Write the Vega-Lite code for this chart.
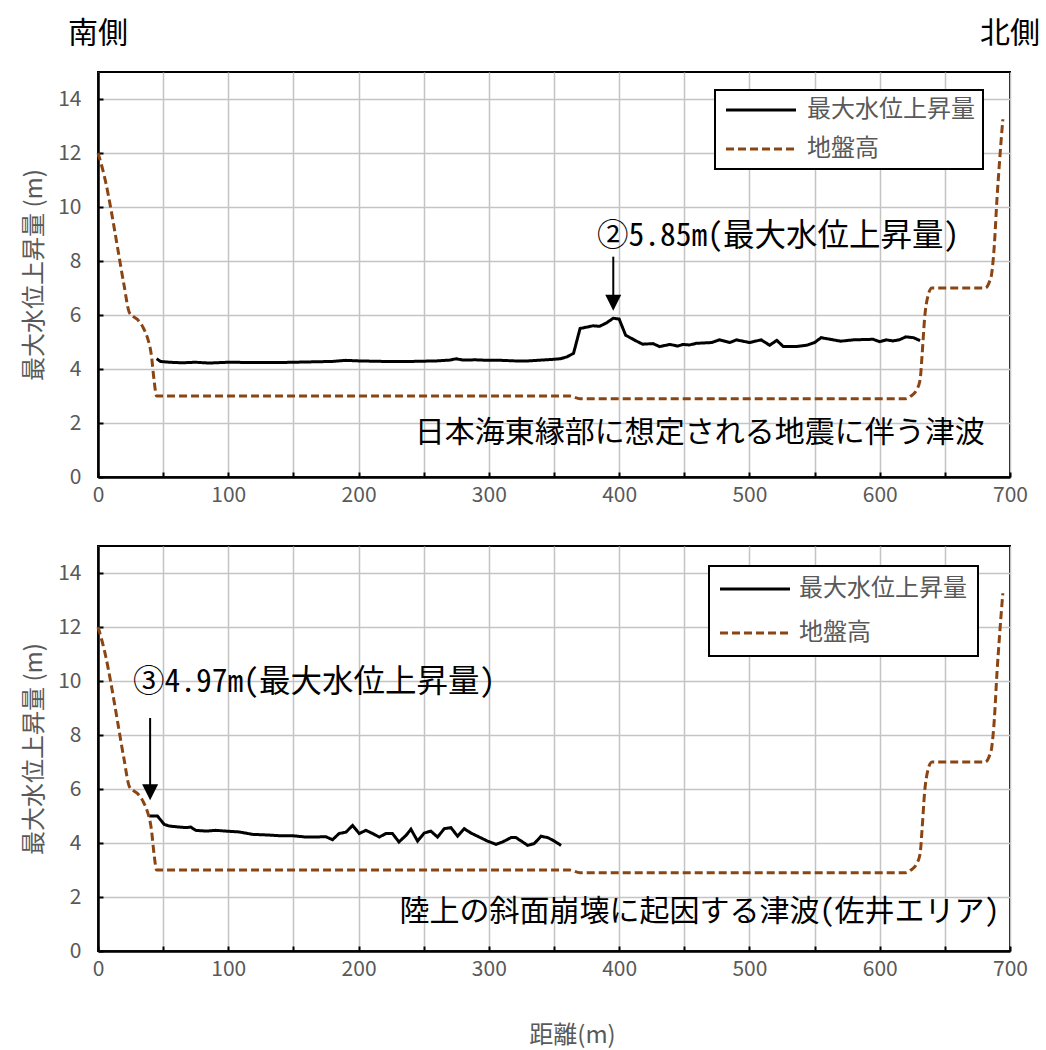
{
  "$schema": "https://vega.github.io/schema/vega-lite/v6.json",
  "padding": {"left": 21, "top": 18, "right": 5, "bottom": 5},
  "bounds": "flush",
  "spacing": 69,
  "background": "white",
  "config": {
    "font": "Noto Sans CJK JP",
    "view": {"stroke": "black", "strokeWidth": 2},
    "axis": {
      "labelColor": "#595959", "labelFontSize": 21, "labelFont": "Noto Sans CJK JP", "labelFlush": false,
      "domainColor": "black", "domainWidth": 2.5,
      "gridColor": "#c4c4c4", "gridWidth": 1.5,
      "tickColor": "black", "tickWidth": 2, "tickSize": -5,
      "titleColor": "#595959", "titleFontSize": 24, "titleFontWeight": "normal"
    },
    "legend": {"strokeWidth": 2}
  },
  "datasets": {
    "ground": [
      {"x": 0, "v": 12.0, "s": "地盤高"}, {"x": 3, "v": 11.5, "s": "地盤高"}, {"x": 6, "v": 10.9, "s": "地盤高"},
      {"x": 10, "v": 9.9, "s": "地盤高"}, {"x": 15, "v": 8.5, "s": "地盤高"}, {"x": 20, "v": 7.1, "s": "地盤高"},
      {"x": 24, "v": 6.1, "s": "地盤高"}, {"x": 27, "v": 5.95, "s": "地盤高"}, {"x": 31, "v": 5.8, "s": "地盤高"},
      {"x": 35, "v": 5.5, "s": "地盤高"}, {"x": 38, "v": 5.15, "s": "地盤高"}, {"x": 41, "v": 4.5, "s": "地盤高"},
      {"x": 43, "v": 3.6, "s": "地盤高"}, {"x": 45, "v": 3.0, "s": "地盤高"}, {"x": 150, "v": 3.0, "s": "地盤高"},
      {"x": 300, "v": 3.0, "s": "地盤高"}, {"x": 362, "v": 3.0, "s": "地盤高"}, {"x": 370, "v": 2.9, "s": "地盤高"},
      {"x": 500, "v": 2.9, "s": "地盤高"}, {"x": 620, "v": 2.9, "s": "地盤高"}, {"x": 624, "v": 3.0, "s": "地盤高"},
      {"x": 628, "v": 3.2, "s": "地盤高"}, {"x": 631, "v": 3.6, "s": "地盤高"}, {"x": 632.5, "v": 4.5, "s": "地盤高"},
      {"x": 634.5, "v": 5.9, "s": "地盤高"}, {"x": 637, "v": 6.7, "s": "地盤高"}, {"x": 640, "v": 7.0, "s": "地盤高"},
      {"x": 681, "v": 7.0, "s": "地盤高"}, {"x": 684, "v": 7.2, "s": "地盤高"}, {"x": 686, "v": 7.55, "s": "地盤高"},
      {"x": 688, "v": 8.6, "s": "地盤高"}, {"x": 690, "v": 10.3, "s": "地盤高"}, {"x": 692, "v": 11.7, "s": "地盤高"},
      {"x": 694.5, "v": 13.25, "s": "地盤高"}
    ],
    "water1": [
      {"x": 45, "v": 4.38, "s": "最大水位上昇量"}, {"x": 48, "v": 4.28, "s": "最大水位上昇量"}, {"x": 55, "v": 4.25, "s": "最大水位上昇量"},
      {"x": 65, "v": 4.23, "s": "最大水位上昇量"}, {"x": 75, "v": 4.25, "s": "最大水位上昇量"}, {"x": 85, "v": 4.22, "s": "最大水位上昇量"},
      {"x": 100, "v": 4.25, "s": "最大水位上昇量"}, {"x": 120, "v": 4.24, "s": "最大水位上昇量"}, {"x": 140, "v": 4.24, "s": "最大水位上昇量"},
      {"x": 160, "v": 4.26, "s": "最大水位上昇量"}, {"x": 180, "v": 4.28, "s": "最大水位上昇量"}, {"x": 190, "v": 4.32, "s": "最大水位上昇量"},
      {"x": 200, "v": 4.30, "s": "最大水位上昇量"}, {"x": 220, "v": 4.28, "s": "最大水位上昇量"}, {"x": 240, "v": 4.28, "s": "最大水位上昇量"},
      {"x": 260, "v": 4.30, "s": "最大水位上昇量"}, {"x": 270, "v": 4.33, "s": "最大水位上昇量"}, {"x": 275, "v": 4.38, "s": "最大水位上昇量"},
      {"x": 280, "v": 4.33, "s": "最大水位上昇量"}, {"x": 290, "v": 4.34, "s": "最大水位上昇量"}, {"x": 300, "v": 4.32, "s": "最大水位上昇量"},
      {"x": 310, "v": 4.32, "s": "最大水位上昇量"}, {"x": 320, "v": 4.30, "s": "最大水位上昇量"}, {"x": 330, "v": 4.30, "s": "最大水位上昇量"},
      {"x": 340, "v": 4.33, "s": "最大水位上昇量"}, {"x": 350, "v": 4.36, "s": "最大水位上昇量"}, {"x": 355, "v": 4.38, "s": "最大水位上昇量"},
      {"x": 360, "v": 4.45, "s": "最大水位上昇量"}, {"x": 365, "v": 4.58, "s": "最大水位上昇量"}, {"x": 370, "v": 5.5, "s": "最大水位上昇量"},
      {"x": 380, "v": 5.6, "s": "最大水位上昇量"}, {"x": 385, "v": 5.58, "s": "最大水位上昇量"}, {"x": 390, "v": 5.7, "s": "最大水位上昇量"},
      {"x": 395.5, "v": 5.88, "s": "最大水位上昇量"}, {"x": 400, "v": 5.85, "s": "最大水位上昇量"}, {"x": 405, "v": 5.25, "s": "最大水位上昇量"},
      {"x": 413, "v": 5.04, "s": "最大水位上昇量"}, {"x": 418, "v": 4.92, "s": "最大水位上昇量"}, {"x": 426, "v": 4.94, "s": "最大水位上昇量"},
      {"x": 431, "v": 4.83, "s": "最大水位上昇量"}, {"x": 439, "v": 4.91, "s": "最大水位上昇量"}, {"x": 445, "v": 4.85, "s": "最大水位上昇量"},
      {"x": 449, "v": 4.91, "s": "最大水位上昇量"}, {"x": 454, "v": 4.89, "s": "最大水位上昇量"}, {"x": 459, "v": 4.95, "s": "最大水位上昇量"},
      {"x": 471, "v": 4.98, "s": "最大水位上昇量"}, {"x": 477, "v": 5.08, "s": "最大水位上昇量"}, {"x": 485, "v": 4.98, "s": "最大水位上昇量"},
      {"x": 490, "v": 5.08, "s": "最大水位上昇量"}, {"x": 500, "v": 4.98, "s": "最大水位上昇量"}, {"x": 509, "v": 5.08, "s": "最大水位上昇量"},
      {"x": 515.5, "v": 4.88, "s": "最大水位上昇量"}, {"x": 521, "v": 5.06, "s": "最大水位上昇量"}, {"x": 526, "v": 4.83, "s": "最大水位上昇量"},
      {"x": 536, "v": 4.83, "s": "最大水位上昇量"}, {"x": 544, "v": 4.88, "s": "最大水位上昇量"}, {"x": 550, "v": 4.98, "s": "最大水位上昇量"},
      {"x": 555, "v": 5.16, "s": "最大水位上昇量"}, {"x": 562, "v": 5.1, "s": "最大水位上昇量"}, {"x": 570, "v": 5.03, "s": "最大水位上昇量"},
      {"x": 580, "v": 5.08, "s": "最大水位上昇量"}, {"x": 595, "v": 5.1, "s": "最大水位上昇量"}, {"x": 600, "v": 5.01, "s": "最大水位上昇量"},
      {"x": 605, "v": 5.08, "s": "最大水位上昇量"}, {"x": 610, "v": 5.04, "s": "最大水位上昇量"}, {"x": 615, "v": 5.08, "s": "最大水位上昇量"},
      {"x": 620, "v": 5.19, "s": "最大水位上昇量"}, {"x": 626, "v": 5.16, "s": "最大水位上昇量"}, {"x": 631, "v": 5.05, "s": "最大水位上昇量"}
    ],
    "water2": [
      {"x": 39.2, "v": 5.0, "s": "最大水位上昇量"}, {"x": 45.6, "v": 5.0, "s": "最大水位上昇量"}, {"x": 50.8, "v": 4.69, "s": "最大水位上昇量"},
      {"x": 54.6, "v": 4.63, "s": "最大水位上昇量"}, {"x": 62.3, "v": 4.59, "s": "最大水位上昇量"}, {"x": 67.4, "v": 4.57, "s": "最大水位上昇量"},
      {"x": 71.2, "v": 4.59, "s": "最大水位上昇量"}, {"x": 75, "v": 4.47, "s": "最大水位上昇量"}, {"x": 82.8, "v": 4.44, "s": "最大水位上昇量"},
      {"x": 90.4, "v": 4.47, "s": "最大水位上昇量"}, {"x": 98, "v": 4.44, "s": "最大水位上昇量"}, {"x": 108.4, "v": 4.41, "s": "最大水位上昇量"},
      {"x": 118.6, "v": 4.32, "s": "最大水位上昇量"}, {"x": 128.8, "v": 4.30, "s": "最大水位上昇量"}, {"x": 139, "v": 4.27, "s": "最大水位上昇量"},
      {"x": 149.3, "v": 4.27, "s": "最大水位上昇量"}, {"x": 159.6, "v": 4.22, "s": "最大水位上昇量"}, {"x": 175, "v": 4.23, "s": "最大水位上昇量"},
      {"x": 180, "v": 4.12, "s": "最大水位上昇量"}, {"x": 185, "v": 4.35, "s": "最大水位上昇量"}, {"x": 190.3, "v": 4.4, "s": "最大水位上昇量"},
      {"x": 195.4, "v": 4.65, "s": "最大水位上昇量"}, {"x": 200.5, "v": 4.35, "s": "最大水位上昇量"}, {"x": 205.6, "v": 4.47, "s": "最大水位上昇量"},
      {"x": 210.8, "v": 4.35, "s": "最大水位上昇量"}, {"x": 215.9, "v": 4.22, "s": "最大水位上昇量"}, {"x": 221, "v": 4.35, "s": "最大水位上昇量"},
      {"x": 226, "v": 4.35, "s": "最大水位上昇量"}, {"x": 231, "v": 4.04, "s": "最大水位上昇量"}, {"x": 236.4, "v": 4.28, "s": "最大水位上昇量"},
      {"x": 240.2, "v": 4.51, "s": "最大水位上昇量"}, {"x": 245.3, "v": 4.07, "s": "最大水位上昇量"}, {"x": 250.4, "v": 4.37, "s": "最大水位上昇量"},
      {"x": 255.5, "v": 4.44, "s": "最大水位上昇量"}, {"x": 260.6, "v": 4.22, "s": "最大水位上昇量"}, {"x": 265.8, "v": 4.53, "s": "最大水位上昇量"},
      {"x": 270.9, "v": 4.57, "s": "最大水位上昇量"}, {"x": 276, "v": 4.25, "s": "最大水位上昇量"}, {"x": 281.1, "v": 4.53, "s": "最大水位上昇量"},
      {"x": 286.2, "v": 4.37, "s": "最大水位上昇量"}, {"x": 292.6, "v": 4.22, "s": "最大水位上昇量"}, {"x": 299, "v": 4.07, "s": "最大水位上昇量"},
      {"x": 305.5, "v": 3.95, "s": "最大水位上昇量"}, {"x": 310.6, "v": 4.04, "s": "最大水位上昇量"}, {"x": 317, "v": 4.2, "s": "最大水位上昇量"},
      {"x": 320.8, "v": 4.2, "s": "最大水位上昇量"}, {"x": 325.9, "v": 4.04, "s": "最大水位上昇量"}, {"x": 329.8, "v": 3.91, "s": "最大水位上昇量"},
      {"x": 334.9, "v": 3.98, "s": "最大水位上昇量"}, {"x": 340, "v": 4.25, "s": "最大水位上昇量"}, {"x": 345.2, "v": 4.2, "s": "最大水位上昇量"},
      {"x": 350.3, "v": 4.07, "s": "最大水位上昇量"}, {"x": 355.4, "v": 3.91, "s": "最大水位上昇量"}
    ]
  },
  "resolve": {
    "scale": {"color": "independent", "strokeDash": "independent"},
    "legend": {"color": "independent", "strokeDash": "independent"}
  },
  "vconcat": [
    {
      "width": 912, "height": 405,
      "layer": [
        {
          "data": {"name": "water1"},
          "mark": {"type": "line", "strokeWidth": 3},
          "encoding": {
            "x": {"field": "x", "type": "quantitative", "scale": {"domain": [0, 700], "nice": false},
                  "axis": {"title": null, "values": [0,50,100,150,200,250,300,350,400,450,500,550,600,650,700], "labelExpr": "datum.value % 100 === 0 ? datum.label : ''", "labelPadding": 12}},
            "y": {"field": "v", "type": "quantitative", "scale": {"domain": [0, 15], "nice": false},
                  "axis": {"title": "最大水位上昇量 (m)", "values": [0,1,2,3,4,5,6,7,8,9,10,11,12,13,14,15], "labelExpr": "datum.value % 2 === 0 ? datum.label : ''", "labelPadding": 22, "titlePadding": 11}},
            "color": {"field": "s", "type": "nominal", "scale": {"domain": ["最大水位上昇量", "地盤高"], "range": ["black", "#8B4513"]},
                      "legend": {"orient": "none", "legendX": 617, "legendY": 18, "title": null, "symbolType": "M-3.5,0H3.5", "symbolSize": 400, "symbolStrokeWidth": 3, "symbolOffset": 26, "labelOffset": 34, "labelLimit": 400, "labelFontSize": 24, "labelColor": "#595959", "padding": 8, "rowPadding": 15, "strokeColor": "black", "fillColor": "white"}},
            "strokeDash": {"field": "s", "type": "nominal", "scale": {"domain": ["最大水位上昇量", "地盤高"], "range": [[1, 0], [8, 4]]}}
          }
        },
        {
          "data": {"name": "ground"},
          "mark": {"type": "line", "strokeWidth": 3, "interpolate": "monotone"},
          "encoding": {
            "x": {"field": "x", "type": "quantitative"},
            "y": {"field": "v", "type": "quantitative"},
            "color": {"field": "s", "type": "nominal"},
            "strokeDash": {"field": "s", "type": "nominal"}
          }
        },
        {
          "data": {"values": [{"x": 395.5, "ytop": 8.16, "ymid": 6.5, "ytip": 6.16}]},
          "mark": {"type": "rule", "strokeWidth": 2, "color": "black"},
          "encoding": {"x": {"field": "x", "type": "quantitative"}, "y": {"field": "ytop", "type": "quantitative"}, "y2": {"field": "ymid"}}
        },
        {
          "data": {"values": [{"x": 395.5, "ytop": 8.16, "ymid": 6.5, "ytip": 6.16}]},
          "mark": {"type": "point", "shape": "M0,1L-1,-1L1,-1Z", "size": 256, "filled": true, "color": "black", "opacity": 1, "yOffset": -8},
          "encoding": {"x": {"field": "x", "type": "quantitative"}, "y": {"field": "ytip", "type": "quantitative"}}
        },
        {
          "data": {"values": [{"x": 383, "y": 8.89, "t": "②5.85m(最大水位上昇量)"}]},
          "mark": {"type": "text", "align": "left", "baseline": "middle", "fontSize": 31.5, "font": "Noto Sans Mono CJK JP, Noto Sans CJK JP", "color": "black"},
          "encoding": {"x": {"field": "x", "type": "quantitative"}, "y": {"field": "y", "type": "quantitative"}, "text": {"field": "t"}}
        },
        {
          "data": {"values": [{"x": 680.7, "y": 1.63, "t": "日本海東縁部に想定される地震に伴う津波"}]},
          "mark": {"type": "text", "align": "right", "baseline": "middle", "fontSize": 30, "color": "black"},
          "encoding": {"x": {"field": "x", "type": "quantitative"}, "y": {"field": "y", "type": "quantitative"}, "text": {"field": "t"}}
        },
        {
          "data": {"values": [{"x": 0, "y": 15, "t": "南側"}, {"x": 700, "y": 15, "t": "北側"}]},
          "mark": {"type": "text", "align": "center", "baseline": "middle", "fontSize": 30, "color": "black", "dy": -38},
          "encoding": {"x": {"field": "x", "type": "quantitative"}, "y": {"field": "y", "type": "quantitative"}, "text": {"field": "t"}}
        }
      ]
    },
    {
      "width": 912, "height": 405,
      "layer": [
        {
          "data": {"name": "water2"},
          "mark": {"type": "line", "strokeWidth": 3},
          "encoding": {
            "x": {"field": "x", "type": "quantitative", "scale": {"domain": [0, 700], "nice": false},
                  "axis": {"title": "距離(m)", "titleX": 474, "titlePadding": 44, "values": [0,50,100,150,200,250,300,350,400,450,500,550,600,650,700], "labelExpr": "datum.value % 100 === 0 ? datum.label : ''", "labelPadding": 12}},
            "y": {"field": "v", "type": "quantitative", "scale": {"domain": [0, 15], "nice": false},
                  "axis": {"title": "最大水位上昇量 (m)", "values": [0,1,2,3,4,5,6,7,8,9,10,11,12,13,14,15], "labelExpr": "datum.value % 2 === 0 ? datum.label : ''", "labelPadding": 22, "titlePadding": 11}},
            "color": {"field": "s", "type": "nominal", "scale": {"domain": ["最大水位上昇量", "地盤高"], "range": ["black", "#8B4513"]},
                      "legend": {"orient": "none", "legendX": 611, "legendY": 20, "title": null, "symbolType": "M-3.5,0H3.5", "symbolSize": 400, "symbolStrokeWidth": 3, "symbolOffset": 23, "labelOffset": 32, "labelLimit": 400, "labelFontSize": 24, "labelColor": "#595959", "padding": 11, "rowPadding": 20, "strokeColor": "black", "fillColor": "white"}},
            "strokeDash": {"field": "s", "type": "nominal", "scale": {"domain": ["最大水位上昇量", "地盤高"], "range": [[1, 0], [8, 4]]}}
          }
        },
        {
          "data": {"name": "ground"},
          "mark": {"type": "line", "strokeWidth": 3, "interpolate": "monotone"},
          "encoding": {
            "x": {"field": "x", "type": "quantitative"},
            "y": {"field": "v", "type": "quantitative"},
            "color": {"field": "s", "type": "nominal"},
            "strokeDash": {"field": "s", "type": "nominal"}
          }
        },
        {
          "data": {"values": [{"x": 40, "ytop": 8.63, "ymid": 5.9, "ytip": 5.58}]},
          "mark": {"type": "rule", "strokeWidth": 2, "color": "black"},
          "encoding": {"x": {"field": "x", "type": "quantitative"}, "y": {"field": "ytop", "type": "quantitative"}, "y2": {"field": "ymid"}}
        },
        {
          "data": {"values": [{"x": 40, "ytop": 8.63, "ymid": 5.9, "ytip": 5.58}]},
          "mark": {"type": "point", "shape": "M0,1L-1,-1L1,-1Z", "size": 256, "filled": true, "color": "black", "opacity": 1, "yOffset": -8},
          "encoding": {"x": {"field": "x", "type": "quantitative"}, "y": {"field": "ytip", "type": "quantitative"}}
        },
        {
          "data": {"values": [{"x": 26.9, "y": 9.91, "t": "③4.97m(最大水位上昇量)"}]},
          "mark": {"type": "text", "align": "left", "baseline": "middle", "fontSize": 31.5, "font": "Noto Sans Mono CJK JP, Noto Sans CJK JP", "color": "black"},
          "encoding": {"x": {"field": "x", "type": "quantitative"}, "y": {"field": "y", "type": "quantitative"}, "text": {"field": "t"}}
        },
        {
          "data": {"values": [{"x": 692, "y": 1.43, "t": "陸上の斜面崩壊に起因する津波(佐井エリア)"}]},
          "mark": {"type": "text", "align": "right", "baseline": "middle", "fontSize": 30, "font": "Noto Sans Mono CJK JP, Noto Sans CJK JP", "color": "black"},
          "encoding": {"x": {"field": "x", "type": "quantitative"}, "y": {"field": "y", "type": "quantitative"}, "text": {"field": "t"}}
        }
      ]
    }
  ]
}
